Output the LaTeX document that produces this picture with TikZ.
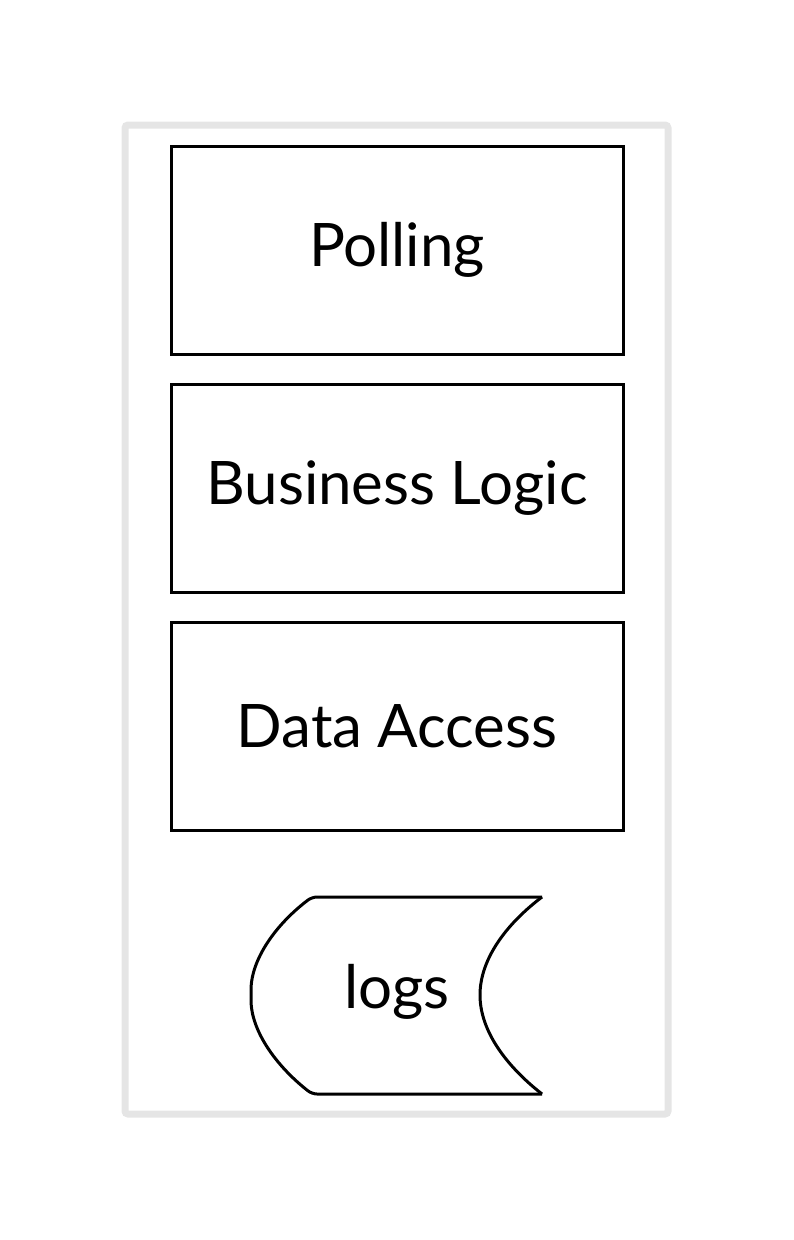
\documentclass[tikz,border=0pt]{standalone}
\usepackage{fontspec}
\setmainfont{Lato}
\usetikzlibrary{positioning}
\definecolor{framegray}{RGB}{229,229,229}

\begin{document}
\begin{tikzpicture}[
    x=1pt, y=-1pt,
    layer/.style={rectangle,draw,line width=3pt,minimum width=452pt,minimum height=208pt,font=\fontsize{60}{64}\selectfont,inner sep=0pt},
    logline/.style={draw,line width=3pt,rounded corners=5pt}
]
    \useasboundingbox (0,0) rectangle (793,1240);

    % Outer frame
    \draw[framegray,line width=7pt,rounded corners=3pt] (125,125) rectangle (668,1114);

    % Layers
    \node[layer] (polling) at (397,250) {Polling};
    \node[layer] (business) at (397,488) {Business Logic};
    \node[layer] (data) at (397,726) {Data Access};

    % Stored data shape for logs
    \draw[logline] (542,897) -- (312,897)
        .. controls (275,925) and (251,960) .. (251,995)
        .. controls (251,1030) and (275,1065) .. (312,1094)
        -- (542,1094);
    \draw[line width=3pt] (542,897) .. controls (505,925) and (480,960) .. (480,995)
        .. controls (480,1030) and (505,1065) .. (542,1094);
    \node[font=\fontsize{60}{64}\selectfont] (logs) at (397,992) {logs};
\end{tikzpicture}
\end{document}
